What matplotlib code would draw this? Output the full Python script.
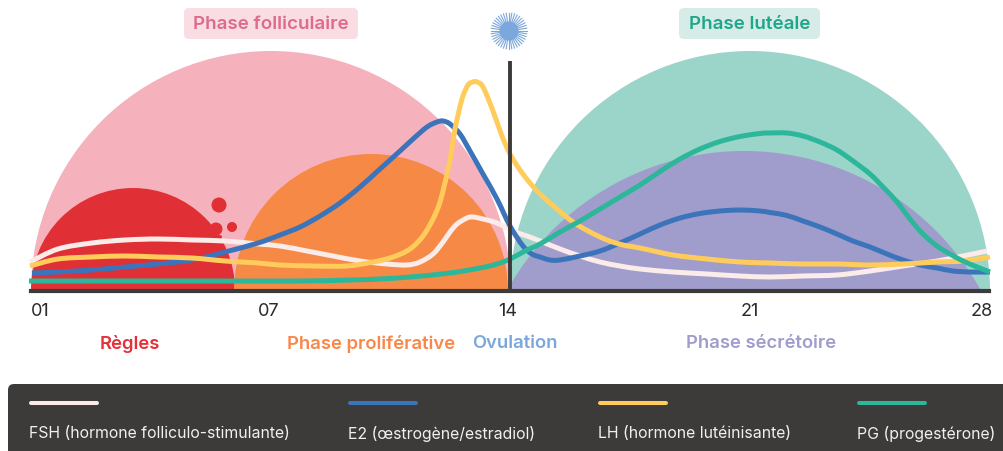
import numpy as np
import matplotlib
matplotlib.use('Agg')
import matplotlib.pyplot as plt
from matplotlib.patches import Circle, FancyBboxPatch, PathPatch
from matplotlib.path import Path

plt.rcParams['font.family'] = ['Inter', 'DejaVu Sans']

# curves, x and y in picture pixels
fsh_x = [30, 58, 92, 125, 158, 192, 225, 258, 280, 307, 333, 360, 387, 407, 420, 433, 443, 450, 457, 467, 473, 483, 497, 513, 527, 540, 560, 580, 600, 620, 640, 673, 707, 740, 770, 803, 837, 870, 903, 937, 963, 987]
fsh_y = [263, 250, 244, 241, 240, 241, 242, 245, 247, 252, 257, 262, 265, 266, 263, 255, 243, 233, 225, 219, 218, 220, 224, 232, 237, 242, 250, 257, 263, 267, 270, 273, 275, 277, 278, 277, 276, 272, 267, 262, 257, 252]

e2_x = [32, 58, 92, 125, 158, 192, 225, 258, 280, 300, 320, 340, 360, 380, 400, 413, 427, 437, 443, 450, 460, 470, 483, 497, 510, 523, 532, 540, 550, 560, 580, 600, 620, 640, 660, 680, 700, 720, 740, 760, 770, 787, 803, 820, 837, 853, 870, 887, 903, 920, 937, 953, 970, 990]
e2_y = [274, 273, 271, 268, 265, 261, 253, 244, 236, 228, 217, 204, 188, 170, 152, 140, 128, 123, 122, 125, 135, 152, 175, 200, 227, 247, 255, 258, 261, 261, 257, 252, 244, 235, 226, 219, 214.5, 212, 211, 212, 213.5, 216.5, 222, 228, 235, 242, 248, 255, 261, 266, 269, 272, 273, 273]

lh_x = [30, 58, 92, 125, 158, 192, 225, 258, 280, 313, 347, 373, 393, 410, 423, 433, 440, 447, 451, 455, 462, 468, 473, 477, 483, 493, 502, 510, 520, 530, 540, 557, 573, 590, 607, 623, 640, 673, 707, 740, 770, 803, 837, 870, 903, 937, 963, 990]
lh_y = [267, 260, 258, 257, 258, 259, 262, 264, 266, 267, 267, 263, 258, 250, 237, 220, 203, 175, 155, 130, 100, 86, 83, 83, 88, 112, 137, 155, 171, 184, 195, 210, 223, 233, 241, 246, 249, 256, 260, 263, 264, 265, 265, 266, 265, 263, 262, 258]

pg_x = [29, 100, 200, 300, 350, 380, 410, 450, 480, 497, 510, 525, 540, 560, 580, 600, 620, 640, 660, 680, 700, 720, 740, 760, 770, 787, 803, 820, 837, 853, 870, 883, 897, 910, 923, 937, 950, 963, 977, 990]
pg_y = [282, 282, 282, 282, 281, 280, 278, 274, 269, 265, 260, 252, 245, 233, 222, 210, 198, 186, 172.5, 160, 150, 142.5, 137.5, 134.5, 134, 134, 137, 143, 151, 162, 175, 188, 203, 220, 235, 247, 255, 262, 268, 273]

tick_pos = [40, 269, 508, 750, 982]
tick_labels = ['01', '07', '14', '21', '28']

phase_names = ['Règles', 'Phase proliférative', 'Ovulation', 'Phase sécrétoire']
phase_pos = [130, 371, 515, 761]
phase_colors = ['#E5303A', '#F9874A', '#7BA7DC', '#A09DCC']

legend_names = ['FSH (hormone folliculo-stimulante)', 'E2 (œstrogène/estradiol)', 'LH (hormone lutéinisante)', 'PG (progestérone)']
legend_x = [29, 348, 598, 857]
legend_colors = ['#FBEBE9', '#3B74BA', '#FFCC5C', '#2DB79A']

dark = '#3D3B3A'


def curve(ax, xs, ys, color, z):
    # bezier through the read points so the line has no corners
    p = np.column_stack([xs, ys]).astype(float)
    verts = [p[0]]
    codes = [Path.MOVETO]
    for i in range(len(p) - 1):
        a = p[max(i - 1, 0)]
        d = p[min(i + 2, len(p) - 1)]
        verts += [p[i] + (p[i + 1] - a) / 6, p[i + 1] - (d - p[i]) / 6, p[i + 1]]
        codes += [Path.CURVE4] * 3
    ax.add_patch(PathPatch(Path(verts, codes), fc='none', ec=color, lw=3.6, capstyle='butt', zorder=z))


fig = plt.figure(figsize=(10.04, 4.52), dpi=100)
ax = fig.add_axes([0, 160 / 452, 1, 292 / 452])
ax.set_xlim(0, 1004)
ax.set_ylim(292, 0)
ax.patch.set_visible(False)

for s in ['top', 'left', 'right']:
    ax.spines[s].set_visible(False)
ax.spines['bottom'].set_bounds(31, 989)
ax.spines['bottom'].set_linewidth(3)
ax.spines['bottom'].set_color(dark)
ax.spines['bottom'].set_zorder(9)
ax.set_yticks([])
ax.set_xticks(tick_pos, tick_labels)
ax.tick_params(axis='x', length=0, pad=8, labelsize=13, labelcolor='#2b2b2b')

# background domes
ax.add_patch(Circle((271, 292), 240, color='#F5B1BC', lw=0, zorder=1))
ax.add_patch(Circle((133, 291), 102, color='#E13035', lw=0, zorder=2))
ax.add_patch(Circle((371, 292), 137, color='#F68945', lw=0, zorder=3))
ax.add_patch(Circle((750, 292), 240, color='#9BD4C8', lw=0, zorder=1))
ax.add_patch(Circle((744, 423), 271, color='#A09DCC', lw=0, zorder=2))

# drops
for cx, cy, r in [(219, 206, 7.5), (216, 230, 6.5), (232, 228, 5), (220, 238, 2)]:
    ax.add_patch(Circle((cx, cy), r, color='#E13035', lw=0, zorder=2))

# sun
for a in np.linspace(0, 2 * np.pi, 40, endpoint=False):
    ax.plot([509, 509 + 18 * np.cos(a)], [32, 32 + 18 * np.sin(a)], color='#7BA7DC', lw=0.8, zorder=4)
ax.add_patch(Circle((509, 32), 9.5, color='#7BA7DC', lw=0, zorder=4))

# hormone curves
curve(ax, fsh_x, fsh_y, legend_colors[0], 5)
curve(ax, e2_x, e2_y, legend_colors[1], 6)
curve(ax, lh_x, lh_y, legend_colors[2], 7)
curve(ax, pg_x, pg_y, legend_colors[3], 7)

# ovulation line
ax.vlines(510, 62, 292, color=dark, lw=2.8, zorder=8)

# badges
ax.add_patch(FancyBboxPatch((187, 12), 168, 25, boxstyle='round,pad=3,rounding_size=5', fc='#FADDE3', ec='none', zorder=4))
ax.text(271, 25, 'Phase folliculaire', ha='center', va='center', fontsize=13.5, fontweight='semibold', color='#DE6B8C', zorder=5)
ax.add_patch(FancyBboxPatch((682, 12), 135, 25, boxstyle='round,pad=3,rounding_size=5', fc='#D7ECE8', ec='none', zorder=4))
ax.text(750, 25, 'Phase lutéale', ha='center', va='center', fontsize=13.5, fontweight='semibold', color='#1FA78A', zorder=5)

for name, x, c in zip(phase_names, phase_pos, phase_colors):
    ax.text(x, 344, name, ha='center', va='center', fontsize=13.3, fontweight='semibold', color=c)

# legend band
ax.add_patch(FancyBboxPatch((8, 385), 1020, 90, boxstyle='round,pad=0,rounding_size=6', fc=dark, ec='none', clip_on=False))
for name, x, c in zip(legend_names, legend_x, legend_colors):
    ax.plot([x + 2, x + 68], [404, 404], color=c, lw=2.9, solid_capstyle='round', clip_on=False)
    ax.text(x, 434, name, ha='left', va='center', fontsize=11.4, color='#F2F0EE', clip_on=False)

fig.savefig('out.png', dpi=100)
